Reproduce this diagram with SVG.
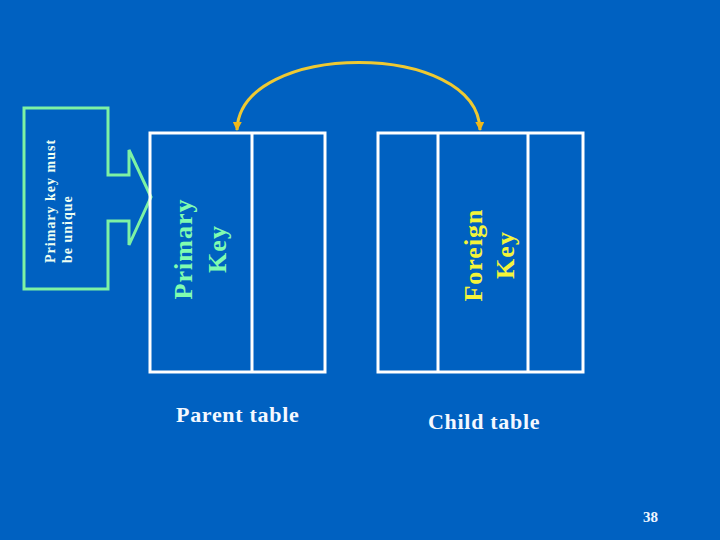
<svg xmlns="http://www.w3.org/2000/svg" width="720" height="540" viewBox="0 0 720 540">
<defs>
<style>
.tbl{fill:none;stroke:#ffffff;stroke-width:3}
.key{font-family:"Liberation Serif",serif;font-weight:bold;font-size:26px;letter-spacing:1px;text-anchor:middle}
.cap{font-family:"Liberation Serif",serif;font-weight:bold;font-size:22px;letter-spacing:0.7px;fill:#f4f8ff}
.note{font-family:"Liberation Serif",serif;font-weight:bold;font-size:14px;letter-spacing:1px;fill:#eefff2}
</style>
<marker id="ah" viewBox="0 0 10 10" refX="9" refY="5" markerWidth="9" markerHeight="9" markerUnits="userSpaceOnUse" orient="auto-start-reverse">
<path d="M0,0 L10,5 L0,10 Z" fill="#f0b818"/>
</marker>
</defs>
<rect width="720" height="540" fill="#0061c1"/>
<g id="callout">
<path d="M24,108 H108 V175 H129 V150 L151,197 L129,245 V221 H108 V289 H24 Z" fill="none" stroke="#7df2a4" stroke-width="3"/>
<text class="note" transform="translate(55,263) rotate(-90)">Primary key must</text>
<text class="note" transform="translate(72,263) rotate(-90)">be unique</text>
</g>
<g id="parent-table">
<rect class="tbl" x="150" y="133" width="175" height="239"/>
<line class="tbl" x1="252" y1="133" x2="252" y2="372"/>
<text class="key" fill="#80fcb0" transform="translate(192,249) rotate(-90)">Primary</text>
<text class="key" fill="#80fcb0" transform="translate(226,249) rotate(-90)">Key</text>
<text class="cap" x="176" y="422">Parent table</text>
</g>
<g id="child-table">
<rect class="tbl" x="378" y="133" width="205" height="239"/>
<line class="tbl" x1="438" y1="133" x2="438" y2="372"/>
<line class="tbl" x1="528" y1="133" x2="528" y2="372"/>
<text class="key" fill="#f4f43a" transform="translate(482,255) rotate(-90)">Foreign</text>
<text class="key" fill="#f4f43a" transform="translate(514,255) rotate(-90)">Key</text>
<text class="cap" x="428" y="429">Child table</text>
</g>
<g id="connectors">
<path d="M237,130 C240,40 478,40 480,130" fill="none" stroke="#eec932" stroke-width="3" marker-start="url(#ah)" marker-end="url(#ah)"/>
</g>
<text x="643" y="522" font-family="'Liberation Serif',serif" font-weight="bold" font-size="15" fill="#f0f6ff">38</text>
</svg>
